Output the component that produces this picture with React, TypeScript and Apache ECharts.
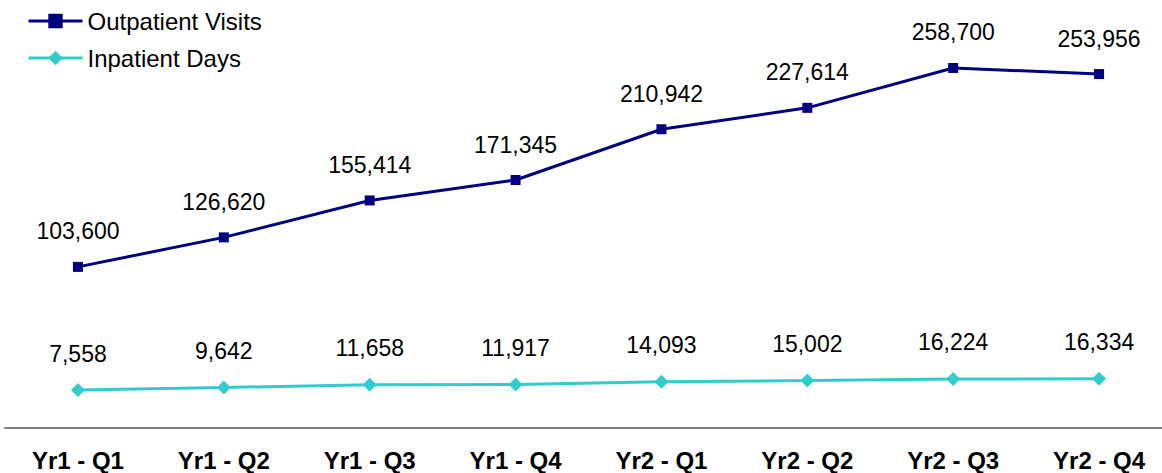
import React, { useEffect, useRef } from "react";
import * as echarts from "echarts";

const categories = ["Yr1 - Q1", "Yr1 - Q2", "Yr1 - Q3", "Yr1 - Q4", "Yr2 - Q1", "Yr2 - Q2", "Yr2 - Q3", "Yr2 - Q4"];
const outpatientVisits = [103600, 126620, 155414, 171345, 210942, 227614, 258700, 253956];
const inpatientDays = [7558, 9642, 11658, 11917, 14093, 15002, 16224, 16334];

const FONT = "'Liberation Sans', Arial, Helvetica, sans-serif";

export default function App() {
  const ref = useRef<HTMLDivElement>(null);
  useEffect(() => {
    if (!ref.current) return;
    const chart = echarts.init(ref.current, null, { renderer: "svg" });
    const fmt = (p: any) => Number(p.value).toLocaleString("en-US");
    chart.setOption({
      animation: false,
      backgroundColor: "#ffffff",
      textStyle: { fontFamily: FONT },
      legend: {
        orient: "vertical",
        left: 27,
        top: 9,
        padding: 0,
        itemWidth: 54,
        itemHeight: 18,
        itemGap: 13,
        lineStyle: { width: 3 },
        textStyle: { fontSize: 24, color: "#000", fontFamily: FONT },
        data: ["Outpatient Visits", "Inpatient Days"],
      },
      grid: { left: 5, right: -10, top: 15, bottom: 45, outerBoundsMode: "none", containLabel: false },
      xAxis: {
        type: "category",
        data: categories,
        boundaryGap: true,
        axisLine: { show: true, onZero: false, lineStyle: { color: "#808080", width: 2 } },
        axisTick: { show: false },
        axisLabel: { fontSize: 24, fontWeight: "bold", color: "#000", margin: 20, fontFamily: FONT },
        splitLine: { show: false },
      },
      yAxis: {
        type: "value",
        min: -22000,
        max: 300000,
        show: false,
        splitLine: { show: false },
      },
      series: [
        {
          name: "Outpatient Visits",
          type: "line",
          data: outpatientVisits,
          symbol: "rect",
          symbolSize: 10,
          itemStyle: { color: "#000080" },
          lineStyle: { color: "#000080", width: 3 },
          label: { show: true, position: "top", distance: 19, fontSize: 23, color: "#000", formatter: fmt, fontFamily: FONT },
        },
        {
          name: "Inpatient Days",
          type: "line",
          data: inpatientDays,
          symbol: "diamond",
          symbolSize: 14,
          itemStyle: { color: "#33CCCC" },
          lineStyle: { color: "#33CCCC", width: 3 },
          label: { show: true, position: "top", distance: 18, fontSize: 23, color: "#000", formatter: fmt, fontFamily: FONT },
        },
      ],
    });
    return () => chart.dispose();
  }, []);
  return <div ref={ref} style={{ position: "fixed", left: 0, top: 0, width: 1162, height: 473 }} />;
}
